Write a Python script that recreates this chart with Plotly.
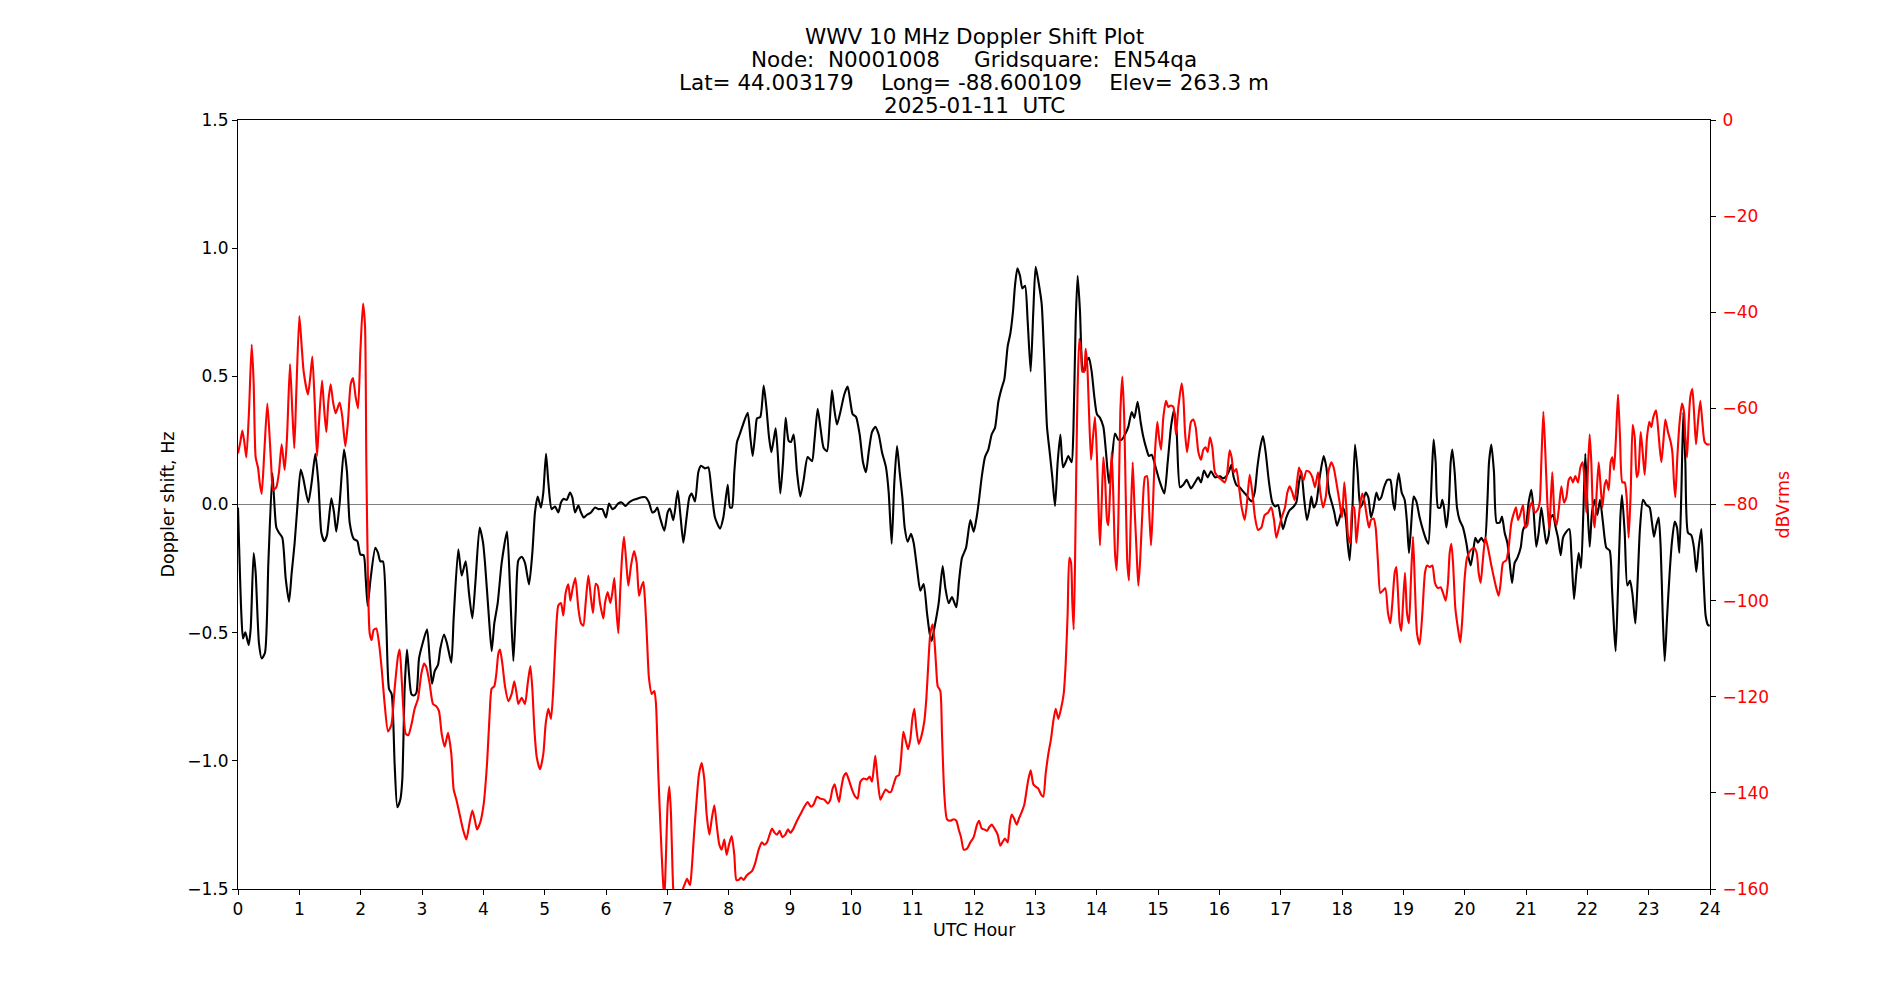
import plotly.graph_objects as go

# ---------------- data ----------------
title_lines = [
    "WWV 10 MHz Doppler Shift Plot",
    "Node:  N0001008     Gridsquare:  EN54qa",
    "Lat= 44.003179    Long= -88.600109    Elev= 263.3 m",
    "2025-01-11  UTC",
]
x_label = "UTC Hour"
y_label = "Doppler shift, Hz"
y2_label = "dBVrms"

hour_ticks = list(range(0, 25))
shift_ticks = [-1.5, -1.0, -0.5, 0.0, 0.5, 1.0, 1.5]
dbv_ticks = [-160, -140, -120, -100, -80, -60, -40, -20, 0]

# Doppler shift (Hz) : (UTC hour, value)
doppler_points = [
    (0.000, -0.012), (0.054, -0.424), (0.082, -0.523), (0.120, -0.499), (0.174, -0.548), (0.207, -0.483),
    (0.255, -0.189), (0.288, -0.267), (0.342, -0.542), (0.386, -0.601), (0.440, -0.578), (0.495, -0.228),
    (0.560, 0.122), (0.587, 0.028), (0.625, -0.090), (0.668, -0.110), (0.723, -0.130), (0.777, -0.287),
    (0.832, -0.379), (0.875, -0.267), (0.924, -0.149), (0.973, 0.008), (1.022, 0.136), (1.060, 0.106),
    (1.147, 0.008), (1.201, 0.086), (1.261, 0.198), (1.310, 0.086), (1.359, -0.110), (1.408, -0.143),
    (1.451, -0.120), (1.522, 0.024), (1.565, -0.031), (1.603, -0.106), (1.658, 0.008), (1.728, 0.214),
    (1.777, 0.126), (1.821, -0.071), (1.886, -0.134), (1.946, -0.143), (1.995, -0.195), (2.049, -0.198),
    (2.082, -0.287), (2.114, -0.395), (2.163, -0.287), (2.239, -0.169), (2.283, -0.189), (2.321, -0.222),
    (2.364, -0.222), (2.418, -0.464), (2.462, -0.719), (2.505, -0.739), (2.554, -1.014), (2.598, -1.181),
    (2.647, -1.151), (2.679, -1.073), (2.717, -0.719), (2.755, -0.566), (2.788, -0.660), (2.826, -0.739),
    (2.864, -0.745), (2.908, -0.735), (2.951, -0.601), (3.005, -0.546), (3.082, -0.487), (3.125, -0.601),
    (3.163, -0.699), (3.207, -0.650), (3.261, -0.625), (3.299, -0.562), (3.359, -0.507), (3.408, -0.542),
    (3.478, -0.617), (3.516, -0.444), (3.592, -0.175), (3.647, -0.277), (3.712, -0.222), (3.766, -0.346),
    (3.821, -0.444), (3.870, -0.306), (3.940, -0.090), (3.995, -0.149), (4.027, -0.228), (4.092, -0.444),
    (4.136, -0.572), (4.179, -0.464), (4.234, -0.385), (4.299, -0.228), (4.386, -0.106), (4.435, -0.326),
    (4.489, -0.611), (4.527, -0.424), (4.571, -0.218), (4.625, -0.204), (4.679, -0.228), (4.745, -0.312),
    (4.799, -0.189), (4.842, -0.031), (4.886, 0.031), (4.940, -0.012), (4.978, 0.047), (5.022, 0.198),
    (5.060, 0.086), (5.114, -0.018), (5.168, -0.008), (5.223, -0.031), (5.266, 0.008), (5.310, 0.022),
    (5.359, 0.018), (5.413, 0.047), (5.451, 0.028), (5.495, -0.031), (5.549, -0.004), (5.592, -0.031),
    (5.636, -0.051), (5.685, -0.041), (5.755, -0.031), (5.821, -0.012), (5.875, -0.018), (5.940, -0.018),
    (6.000, -0.051), (6.049, 0.004), (6.103, -0.018), (6.147, -0.012), (6.201, 0.004), (6.255, 0.008),
    (6.321, -0.006), (6.375, 0.008), (6.446, 0.018), (6.527, 0.024), (6.582, 0.028), (6.647, 0.028),
    (6.701, 0.008), (6.755, -0.031), (6.799, -0.026), (6.837, -0.012), (6.880, -0.051), (6.951, -0.102),
    (7.005, -0.031), (7.043, -0.016), (7.098, -0.061), (7.169, 0.053), (7.217, -0.051), (7.261, -0.149),
    (7.304, -0.071), (7.359, 0.028), (7.397, 0.043), (7.451, 0.012), (7.505, 0.126), (7.549, 0.151),
    (7.614, 0.141), (7.668, 0.145), (7.723, 0.047), (7.777, -0.051), (7.859, -0.094), (7.913, -0.051),
    (7.984, 0.077), (8.022, -0.012), (8.054, -0.012), (8.092, 0.126), (8.136, 0.244), (8.179, 0.273),
    (8.234, 0.312), (8.310, 0.358), (8.353, 0.263), (8.391, 0.189), (8.435, 0.283), (8.462, 0.336),
    (8.516, 0.342), (8.571, 0.464), (8.614, 0.381), (8.658, 0.263), (8.696, 0.204), (8.734, 0.253),
    (8.766, 0.297), (8.799, 0.204), (8.842, 0.043), (8.886, 0.165), (8.929, 0.338), (8.978, 0.248),
    (9.016, 0.244), (9.060, 0.273), (9.114, 0.126), (9.168, 0.031), (9.223, 0.096), (9.288, 0.185),
    (9.359, 0.169), (9.397, 0.244), (9.451, 0.373), (9.495, 0.303), (9.549, 0.220), (9.603, 0.208),
    (9.647, 0.322), (9.685, 0.446), (9.717, 0.381), (9.766, 0.312), (9.821, 0.361), (9.886, 0.430),
    (9.940, 0.460), (9.984, 0.401), (10.022, 0.352), (10.076, 0.342), (10.136, 0.273), (10.190, 0.165),
    (10.239, 0.126), (10.283, 0.204), (10.337, 0.283), (10.391, 0.303), (10.446, 0.273), (10.500, 0.204),
    (10.565, 0.145), (10.609, 0.047), (10.658, -0.153), (10.701, 0.086), (10.745, 0.228), (10.788, 0.126),
    (10.832, 0.028), (10.870, -0.090), (10.919, -0.145), (10.973, -0.114), (11.016, -0.149), (11.071, -0.248),
    (11.125, -0.336), (11.179, -0.310), (11.234, -0.424), (11.277, -0.503), (11.310, -0.532), (11.353, -0.483),
    (11.424, -0.385), (11.489, -0.240), (11.533, -0.326), (11.587, -0.385), (11.641, -0.361), (11.712, -0.401),
    (11.756, -0.297), (11.804, -0.208), (11.870, -0.169), (11.940, -0.061), (11.995, -0.106), (12.049, -0.041),
    (12.082, 0.018), (12.125, 0.106), (12.179, 0.185), (12.234, 0.214), (12.288, 0.273), (12.342, 0.299),
    (12.397, 0.401), (12.451, 0.454), (12.495, 0.489), (12.549, 0.617), (12.592, 0.666), (12.636, 0.754),
    (12.668, 0.853), (12.707, 0.921), (12.750, 0.892), (12.788, 0.843), (12.832, 0.853), (12.875, 0.715),
    (12.924, 0.519), (12.967, 0.754), (13.005, 0.927), (13.049, 0.872), (13.103, 0.784), (13.147, 0.558),
    (13.190, 0.303), (13.234, 0.204), (13.277, 0.106), (13.321, -0.006), (13.364, 0.165), (13.408, 0.273),
    (13.451, 0.145), (13.495, 0.165), (13.538, 0.189), (13.592, 0.165), (13.620, 0.283), (13.658, 0.715),
    (13.690, 0.892), (13.728, 0.754), (13.766, 0.538), (13.799, 0.519), (13.837, 0.558), (13.875, 0.572),
    (13.918, 0.519), (13.962, 0.420), (14.005, 0.352), (14.054, 0.338), (14.109, 0.303), (14.152, 0.204),
    (14.201, 0.083), (14.245, 0.165), (14.299, 0.277), (14.353, 0.253), (14.408, 0.253), (14.462, 0.273),
    (14.516, 0.303), (14.571, 0.361), (14.614, 0.338), (14.668, 0.401), (14.717, 0.322), (14.761, 0.263),
    (14.815, 0.214), (14.853, 0.189), (14.897, 0.194), (14.951, 0.155), (14.995, 0.116), (15.033, 0.086),
    (15.103, 0.043), (15.158, 0.165), (15.212, 0.303), (15.261, 0.369), (15.304, 0.283), (15.359, 0.067),
    (15.413, 0.077), (15.467, 0.096), (15.538, 0.063), (15.603, 0.086), (15.658, 0.106), (15.701, 0.086),
    (15.750, 0.132), (15.810, 0.106), (15.864, 0.130), (15.929, 0.106), (16.011, 0.110), (16.060, 0.102),
    (16.114, 0.110), (16.158, 0.130), (16.196, 0.155), (16.234, 0.106), (16.277, 0.077), (16.332, 0.067),
    (16.386, 0.051), (16.440, 0.037), (16.522, 0.012), (16.576, 0.047), (16.620, 0.145), (16.668, 0.224),
    (16.712, 0.267), (16.755, 0.204), (16.810, 0.086), (16.864, 0.008), (16.913, -0.008), (16.957, -0.002),
    (17.000, -0.051), (17.038, -0.096), (17.092, -0.051), (17.147, -0.022), (17.212, -0.008), (17.255, 0.008),
    (17.299, 0.086), (17.337, 0.130), (17.380, 0.028), (17.429, -0.061), (17.473, -0.012), (17.500, 0.031),
    (17.538, -0.012), (17.582, 0.008), (17.636, 0.106), (17.701, 0.189), (17.745, 0.145), (17.788, 0.047),
    (17.832, 0.008), (17.875, -0.031), (17.918, -0.083), (17.962, -0.051), (18.016, -0.012), (18.060, -0.051),
    (18.092, -0.149), (18.125, -0.218), (18.168, -0.031), (18.212, 0.234), (18.255, 0.126), (18.299, -0.012),
    (18.342, 0.008), (18.386, 0.047), (18.429, 0.028), (18.473, -0.051), (18.516, -0.012), (18.560, 0.047),
    (18.603, 0.018), (18.641, 0.028), (18.685, 0.067), (18.739, 0.096), (18.788, 0.096), (18.832, 0.008),
    (18.859, -0.022), (18.886, 0.057), (18.924, 0.122), (18.973, 0.047), (19.022, 0.018), (19.060, -0.071),
    (19.092, -0.189), (19.125, -0.090), (19.168, 0.031), (19.212, 0.012), (19.266, -0.051), (19.321, -0.100),
    (19.375, -0.139), (19.408, -0.153), (19.446, 0.008), (19.473, 0.165), (19.495, 0.253), (19.527, 0.165),
    (19.565, -0.012), (19.603, -0.012), (19.636, 0.018), (19.663, -0.012), (19.701, -0.090), (19.739, -0.012),
    (19.772, 0.165), (19.799, 0.214), (19.837, 0.126), (19.875, -0.012), (19.918, -0.061), (19.973, -0.090),
    (20.027, -0.149), (20.065, -0.208), (20.098, -0.238), (20.136, -0.189), (20.174, -0.130), (20.217, -0.149),
    (20.272, -0.130), (20.326, -0.149), (20.370, 0.008), (20.397, 0.165), (20.435, 0.234), (20.478, 0.126),
    (20.522, -0.071), (20.571, -0.071), (20.609, -0.047), (20.652, -0.110), (20.696, -0.149), (20.734, -0.228),
    (20.772, -0.306), (20.815, -0.228), (20.859, -0.208), (20.913, -0.169), (20.951, -0.100), (21.005, -0.071),
    (21.043, 0.008), (21.087, 0.057), (21.120, -0.012), (21.168, -0.165), (21.207, -0.110), (21.250, -0.012),
    (21.293, -0.090), (21.332, -0.153), (21.370, -0.120), (21.402, -0.051), (21.440, -0.041), (21.484, -0.090),
    (21.522, -0.130), (21.565, -0.198), (21.603, -0.130), (21.647, -0.110), (21.707, -0.096), (21.739, -0.189),
    (21.783, -0.369), (21.821, -0.267), (21.859, -0.189), (21.897, -0.248), (21.935, -0.031), (21.967, 0.198),
    (22.000, 0.008), (22.038, -0.165), (22.076, -0.031), (22.120, 0.018), (22.163, -0.041), (22.207, 0.018),
    (22.255, -0.071), (22.310, -0.169), (22.364, -0.179), (22.402, -0.326), (22.435, -0.483), (22.462, -0.572),
    (22.500, -0.326), (22.538, -0.051), (22.565, 0.037), (22.609, -0.110), (22.652, -0.316), (22.696, -0.297),
    (22.734, -0.346), (22.783, -0.464), (22.815, -0.326), (22.859, -0.090), (22.908, 0.018), (22.962, -0.002),
    (23.016, -0.012), (23.054, -0.071), (23.087, -0.126), (23.125, -0.081), (23.163, -0.051), (23.196, -0.169),
    (23.228, -0.424), (23.261, -0.611), (23.299, -0.444), (23.342, -0.267), (23.380, -0.145), (23.424, -0.067),
    (23.462, -0.090), (23.500, -0.189), (23.533, 0.047), (23.565, 0.361), (23.598, 0.165), (23.641, -0.110),
    (23.696, -0.120), (23.739, -0.169), (23.777, -0.263), (23.815, -0.169), (23.859, -0.096), (23.891, -0.267),
    (23.929, -0.434), (23.967, -0.470), (23.995, -0.473),
]

# Signal level (dBVrms) : (UTC hour, value)
level_points = [
    (0.000, -69.4), (0.038, -67.0), (0.071, -64.6), (0.103, -67.0), (0.136, -70.2), (0.179, -60.7),
    (0.223, -46.7), (0.255, -54.5), (0.288, -70.2), (0.326, -72.3), (0.353, -75.4), (0.386, -77.8),
    (0.429, -69.1), (0.478, -59.0), (0.516, -66.0), (0.543, -72.3), (0.571, -77.0), (0.625, -76.4),
    (0.668, -73.3), (0.712, -67.5), (0.761, -72.8), (0.799, -66.0), (0.848, -50.8), (0.886, -60.7),
    (0.918, -68.3), (0.951, -56.5), (1.000, -40.8), (1.033, -46.1), (1.071, -52.4), (1.141, -57.1),
    (1.179, -53.4), (1.212, -49.2), (1.250, -58.6), (1.288, -69.9), (1.321, -62.8), (1.370, -54.2),
    (1.408, -60.7), (1.440, -64.9), (1.473, -58.6), (1.511, -55.0), (1.549, -58.6), (1.592, -61.0),
    (1.658, -58.8), (1.701, -61.8), (1.750, -67.9), (1.793, -62.8), (1.837, -55.0), (1.875, -53.7),
    (1.918, -57.6), (1.957, -60.0), (1.995, -48.2), (2.038, -38.2), (2.071, -42.9), (2.092, -71.2),
    (2.120, -96.3), (2.147, -106.8), (2.179, -108.2), (2.212, -106.1), (2.255, -105.8), (2.299, -108.9),
    (2.342, -114.1), (2.391, -121.5), (2.446, -127.2), (2.500, -125.9), (2.554, -118.3), (2.609, -111.5),
    (2.636, -110.2), (2.668, -116.2), (2.701, -123.6), (2.734, -127.7), (2.777, -128.0), (2.826, -125.9),
    (2.880, -122.5), (2.935, -120.4), (2.989, -115.2), (3.033, -113.1), (3.071, -113.9), (3.125, -117.3),
    (3.179, -121.5), (3.234, -122.0), (3.277, -123.0), (3.321, -127.7), (3.370, -130.4), (3.424, -127.5),
    (3.478, -131.9), (3.516, -139.3), (3.560, -141.4), (3.614, -144.5), (3.668, -147.6), (3.723, -149.7),
    (3.777, -146.1), (3.821, -143.7), (3.859, -145.5), (3.897, -147.6), (3.951, -146.1), (4.005, -142.4),
    (4.060, -134.0), (4.103, -123.6), (4.136, -118.3), (4.179, -117.8), (4.212, -115.2), (4.245, -111.0),
    (4.272, -110.2), (4.310, -113.1), (4.353, -117.8), (4.408, -120.9), (4.462, -119.4), (4.505, -116.8),
    (4.543, -119.4), (4.571, -121.5), (4.625, -120.2), (4.679, -121.5), (4.723, -117.3), (4.766, -113.6),
    (4.799, -118.3), (4.832, -126.7), (4.870, -132.5), (4.924, -135.1), (4.978, -131.9), (5.016, -125.7),
    (5.060, -122.5), (5.103, -124.6), (5.141, -118.3), (5.179, -107.9), (5.223, -101.0), (5.266, -100.5),
    (5.304, -103.1), (5.342, -98.4), (5.386, -96.6), (5.419, -100.0), (5.457, -97.4), (5.500, -95.3),
    (5.549, -101.6), (5.592, -104.7), (5.630, -105.2), (5.668, -100.5), (5.712, -94.8), (5.755, -99.5),
    (5.788, -102.6), (5.832, -96.5), (5.864, -96.9), (5.902, -100.5), (5.957, -103.7), (5.984, -100.5),
    (6.027, -98.2), (6.071, -100.5), (6.103, -98.4), (6.136, -95.3), (6.168, -101.6), (6.201, -106.8),
    (6.234, -97.4), (6.266, -90.1), (6.294, -86.7), (6.337, -93.2), (6.364, -96.9), (6.408, -92.7),
    (6.457, -89.7), (6.500, -92.1), (6.538, -99.0), (6.571, -97.4), (6.609, -96.1), (6.636, -100.0),
    (6.668, -107.9), (6.701, -116.2), (6.745, -119.4), (6.788, -118.8), (6.815, -121.5), (6.853, -136.1),
    (6.897, -149.7), (6.924, -157.1), (6.951, -162.3), (6.973, -155.0), (7.005, -142.4), (7.033, -138.7),
    (7.060, -144.5), (7.087, -157.1), (7.114, -162.8), (7.152, -163.4), (7.190, -162.8), (7.234, -160.7),
    (7.277, -159.2), (7.321, -157.9), (7.370, -159.2), (7.397, -156.0), (7.435, -148.7), (7.478, -141.4),
    (7.516, -136.1), (7.560, -133.8), (7.603, -137.2), (7.641, -144.5), (7.685, -148.7), (7.723, -145.5),
    (7.766, -142.6), (7.804, -146.6), (7.848, -150.8), (7.886, -151.8), (7.929, -149.7), (7.967, -152.9),
    (8.005, -150.8), (8.049, -149.0), (8.092, -152.9), (8.125, -158.1), (8.163, -158.1), (8.201, -157.6),
    (8.245, -158.1), (8.288, -157.3), (8.326, -156.8), (8.380, -156.3), (8.435, -154.5), (8.489, -151.8),
    (8.543, -150.3), (8.582, -150.8), (8.625, -150.3), (8.668, -148.7), (8.707, -147.4), (8.745, -148.2),
    (8.788, -148.7), (8.832, -147.9), (8.875, -149.2), (8.924, -148.7), (8.967, -147.6), (9.005, -148.3),
    (9.049, -147.6), (9.103, -146.1), (9.168, -144.5), (9.234, -142.9), (9.288, -141.9), (9.342, -142.9),
    (9.386, -142.4), (9.440, -140.8), (9.495, -141.2), (9.560, -141.4), (9.614, -142.2), (9.658, -141.4),
    (9.690, -139.3), (9.728, -138.2), (9.766, -140.3), (9.799, -141.9), (9.832, -139.3), (9.875, -136.6),
    (9.918, -135.9), (9.957, -137.2), (10.011, -139.3), (10.065, -140.8), (10.103, -141.2), (10.147, -137.7),
    (10.201, -137.0), (10.255, -137.2), (10.299, -136.6), (10.337, -137.7), (10.364, -135.1), (10.391, -132.3),
    (10.429, -137.2), (10.473, -141.4), (10.516, -140.3), (10.560, -139.3), (10.609, -139.8), (10.647, -139.8),
    (10.690, -138.2), (10.734, -136.6), (10.777, -136.3), (10.810, -133.0), (10.848, -127.3), (10.880, -128.8),
    (10.924, -130.9), (10.962, -128.8), (10.995, -124.6), (11.027, -122.5), (11.060, -126.7), (11.098, -129.8),
    (11.141, -128.3), (11.190, -125.1), (11.223, -120.4), (11.255, -113.1), (11.288, -106.8), (11.326, -104.9),
    (11.353, -107.9), (11.380, -113.1), (11.408, -117.8), (11.451, -118.8), (11.478, -127.7), (11.516, -140.3),
    (11.560, -145.5), (11.614, -145.8), (11.668, -145.5), (11.712, -145.8), (11.750, -147.6), (11.788, -149.2),
    (11.832, -151.8), (11.886, -151.6), (11.940, -150.3), (11.995, -149.2), (12.049, -146.6), (12.082, -145.8),
    (12.125, -147.4), (12.168, -147.6), (12.212, -147.9), (12.250, -147.1), (12.288, -146.6), (12.342, -147.6),
    (12.386, -148.7), (12.429, -151.0), (12.462, -150.3), (12.505, -149.5), (12.549, -150.3), (12.582, -146.6),
    (12.614, -144.5), (12.652, -145.3), (12.696, -146.6), (12.734, -145.3), (12.777, -144.0), (12.821, -142.4),
    (12.859, -139.3), (12.886, -137.2), (12.924, -135.3), (12.967, -138.2), (13.005, -138.7), (13.049, -139.1),
    (13.092, -140.3), (13.130, -140.8), (13.168, -136.1), (13.212, -131.9), (13.255, -128.8), (13.293, -125.1),
    (13.332, -122.5), (13.375, -124.6), (13.419, -122.5), (13.462, -119.4), (13.495, -113.1), (13.527, -102.6),
    (13.554, -91.1), (13.582, -92.1), (13.603, -100.5), (13.625, -106.0), (13.647, -92.1), (13.669, -71.2),
    (13.690, -55.5), (13.717, -45.5), (13.745, -48.2), (13.766, -52.4), (13.793, -52.4), (13.821, -47.6),
    (13.848, -51.3), (13.875, -60.7), (13.908, -70.7), (13.940, -66.0), (13.973, -61.8), (14.005, -70.2),
    (14.033, -81.7), (14.054, -88.5), (14.082, -79.6), (14.109, -70.2), (14.136, -74.3), (14.168, -83.2),
    (14.190, -84.3), (14.217, -77.5), (14.245, -69.1), (14.272, -78.5), (14.299, -90.1), (14.326, -93.7),
    (14.353, -83.8), (14.386, -60.7), (14.419, -53.4), (14.451, -62.8), (14.473, -77.5), (14.500, -92.1),
    (14.527, -95.8), (14.554, -83.8), (14.587, -71.2), (14.614, -79.6), (14.652, -90.1), (14.679, -96.9),
    (14.707, -92.1), (14.745, -81.7), (14.788, -74.3), (14.821, -74.1), (14.853, -80.6), (14.886, -88.5),
    (14.913, -81.7), (14.951, -69.1), (14.989, -62.8), (15.016, -66.0), (15.049, -68.6), (15.087, -61.8),
    (15.130, -58.4), (15.168, -59.7), (15.207, -59.4), (15.250, -59.7), (15.293, -65.4), (15.332, -59.7),
    (15.386, -54.8), (15.413, -57.6), (15.440, -64.9), (15.473, -69.1), (15.505, -66.0), (15.538, -62.8),
    (15.576, -62.3), (15.614, -63.9), (15.658, -69.1), (15.701, -70.7), (15.739, -68.6), (15.777, -68.1),
    (15.810, -69.1), (15.848, -66.0), (15.886, -68.1), (15.929, -73.3), (15.984, -74.3), (16.038, -74.9),
    (16.087, -75.4), (16.125, -73.8), (16.168, -68.7), (16.201, -70.2), (16.234, -73.3), (16.277, -72.6),
    (16.321, -76.4), (16.364, -80.6), (16.413, -83.2), (16.451, -79.6), (16.495, -73.8), (16.538, -77.5),
    (16.582, -82.7), (16.630, -85.3), (16.685, -84.8), (16.739, -82.2), (16.793, -81.7), (16.848, -80.6),
    (16.891, -83.2), (16.929, -86.9), (16.973, -84.8), (17.016, -82.7), (17.071, -80.6), (17.109, -77.5),
    (17.147, -76.2), (17.190, -77.5), (17.228, -79.1), (17.266, -75.4), (17.299, -72.3), (17.337, -73.8),
    (17.375, -74.9), (17.419, -73.0), (17.473, -73.3), (17.516, -74.3), (17.560, -76.4), (17.609, -73.3),
    (17.647, -77.5), (17.690, -80.6), (17.734, -78.5), (17.777, -73.3), (17.826, -71.2), (17.864, -72.3),
    (17.908, -75.4), (17.962, -79.6), (18.000, -82.7), (18.038, -75.4), (18.071, -80.6), (18.098, -86.4),
    (18.136, -88.0), (18.168, -80.6), (18.196, -80.6), (18.234, -88.0), (18.266, -83.8), (18.299, -79.6),
    (18.332, -77.7), (18.370, -79.6), (18.408, -82.7), (18.440, -84.8), (18.473, -83.2), (18.516, -82.9),
    (18.549, -84.8), (18.587, -92.1), (18.625, -98.4), (18.668, -97.9), (18.707, -97.4), (18.750, -102.6),
    (18.788, -104.7), (18.821, -100.5), (18.859, -94.2), (18.886, -93.0), (18.913, -98.4), (18.940, -104.7),
    (18.967, -106.3), (18.995, -100.5), (19.027, -94.2), (19.060, -102.6), (19.092, -104.7), (19.125, -95.3),
    (19.158, -86.7), (19.190, -97.4), (19.223, -106.8), (19.266, -109.1), (19.310, -102.6), (19.353, -94.2),
    (19.386, -92.7), (19.429, -93.0), (19.473, -92.7), (19.516, -96.3), (19.565, -97.4), (19.609, -97.2),
    (19.647, -98.4), (19.690, -100.0), (19.728, -96.3), (19.755, -90.1), (19.783, -88.2), (19.810, -92.1),
    (19.848, -101.6), (19.891, -105.8), (19.929, -108.7), (19.962, -103.7), (20.000, -95.3), (20.038, -91.1),
    (20.098, -89.5), (20.152, -89.0), (20.196, -90.1), (20.228, -94.2), (20.261, -96.3), (20.293, -92.1),
    (20.337, -86.9), (20.380, -89.0), (20.435, -92.7), (20.478, -95.3), (20.516, -97.4), (20.554, -99.0),
    (20.587, -96.3), (20.625, -92.1), (20.679, -91.6), (20.717, -89.0), (20.761, -83.8), (20.804, -81.7),
    (20.837, -80.6), (20.870, -83.2), (20.902, -82.2), (20.951, -80.1), (20.989, -84.8), (21.022, -84.3),
    (21.060, -80.6), (21.098, -79.6), (21.141, -81.7), (21.185, -81.2), (21.223, -79.6), (21.250, -71.2),
    (21.283, -60.7), (21.315, -69.1), (21.348, -79.6), (21.380, -85.3), (21.402, -79.6), (21.429, -73.3),
    (21.467, -82.7), (21.500, -84.3), (21.538, -80.6), (21.576, -76.2), (21.620, -79.6), (21.658, -78.5),
    (21.696, -74.9), (21.728, -74.3), (21.766, -75.4), (21.804, -74.1), (21.848, -75.4), (21.886, -72.3),
    (21.924, -71.2), (21.957, -75.4), (21.984, -81.7), (22.011, -72.3), (22.038, -65.4), (22.065, -71.2),
    (22.092, -81.7), (22.120, -84.8), (22.152, -77.5), (22.185, -71.2), (22.212, -75.4), (22.245, -80.6),
    (22.283, -75.9), (22.310, -74.9), (22.348, -77.0), (22.380, -71.2), (22.408, -70.2), (22.435, -72.8),
    (22.467, -66.0), (22.500, -57.1), (22.533, -66.0), (22.571, -75.4), (22.609, -75.4), (22.641, -78.5),
    (22.674, -86.9), (22.707, -77.5), (22.739, -63.4), (22.772, -66.0), (22.804, -74.3), (22.832, -73.3),
    (22.870, -64.9), (22.902, -69.1), (22.935, -73.8), (22.973, -66.0), (23.011, -62.8), (23.043, -63.9),
    (23.076, -61.8), (23.120, -60.4), (23.152, -63.9), (23.179, -68.1), (23.207, -71.2), (23.239, -67.0),
    (23.272, -62.3), (23.315, -64.9), (23.359, -67.0), (23.386, -69.1), (23.413, -75.4), (23.435, -78.5),
    (23.467, -70.2), (23.505, -62.8), (23.543, -59.0), (23.576, -60.7), (23.598, -66.0), (23.625, -70.2),
    (23.652, -62.8), (23.679, -57.6), (23.712, -56.0), (23.739, -60.7), (23.772, -67.5), (23.804, -62.8),
    (23.842, -58.4), (23.875, -62.8), (23.913, -67.0), (23.956, -67.5), (23.995, -67.5),
]

doppler_hours = [p[0] for p in doppler_points]
doppler_shift = [p[1] for p in doppler_points]
level_hours = [p[0] for p in level_points]
level_dbv = [p[1] for p in level_points]


def fmt(v, nd):
    s = f"{abs(v):.{nd}f}"
    return ("\u2212" + s) if v < 0 else s


FONT = "DejaVu Sans"
TICK_SIZE = 17
LABEL_SIZE = 17.5
TITLE_SIZE = 21.5

fig = go.Figure()
fig.add_trace(go.Scatter(
    x=doppler_hours, y=doppler_shift, mode="lines", name="Doppler shift",
    line=dict(color="black", width=2.1, shape="spline", smoothing=0.6),
    yaxis="y", showlegend=False, hoverinfo="skip",
))
fig.add_trace(go.Scatter(
    x=level_hours, y=level_dbv, mode="lines", name="dBVrms",
    line=dict(color="red", width=2.1, shape="spline", smoothing=0.6),
    yaxis="y2", showlegend=False, hoverinfo="skip",
))

# zero reference line on the Doppler axis
fig.add_shape(type="line", xref="paper", x0=0, x1=1, yref="y", y0=0, y1=0,
              line=dict(color="#808080", width=1), layer="below")

# plot area in pixels (matches reference)
L, R, T, B = 238, 1710, 120, 889
W, H = 1900, 1000
pw, ph = R - L, B - T


def px_x(X):
    return (X - L) / pw


def px_y(Y):
    return (B - Y) / ph


annotations = []
for line, yc in zip(title_lines, [36.0, 59.2, 82.3, 105.4]):
    annotations.append(dict(text=line, xref="paper", yref="paper", x=0.5, y=px_y(yc),
                            xanchor="center", yanchor="middle", showarrow=False,
                            font=dict(family=FONT, size=TITLE_SIZE, color="black")))
annotations.append(dict(text=x_label, xref="paper", yref="paper", x=0.5, y=px_y(930.5),
                        xanchor="center", yanchor="middle", showarrow=False,
                        font=dict(family=FONT, size=LABEL_SIZE, color="black")))
annotations.append(dict(text=y_label, xref="paper", yref="paper", x=px_x(167), y=0.5,
                        xanchor="center", yanchor="middle", showarrow=False, textangle=-90,
                        font=dict(family=FONT, size=LABEL_SIZE, color="black")))
annotations.append(dict(text=y2_label, xref="paper", yref="paper", x=px_x(1782), y=0.5,
                        xanchor="center", yanchor="middle", showarrow=False, textangle=-90,
                        font=dict(family=FONT, size=LABEL_SIZE, color="red")))

fig.update_layout(
    width=W, height=H,
    margin=dict(l=L, r=W - R, t=T, b=H - B, pad=0),
    paper_bgcolor="white", plot_bgcolor="white",
    font=dict(family=FONT, size=TICK_SIZE, color="black"),
    showlegend=False,
    annotations=annotations,
    xaxis=dict(
        range=[0, 24], tickmode="array", tickvals=hour_ticks,
        ticktext=[str(h) for h in hour_ticks],
        ticks="outside", ticklen=5, tickwidth=1, tickcolor="black",
        showline=True, linecolor="black", linewidth=1, mirror=True,
        showgrid=False, zeroline=False, fixedrange=True,
        tickfont=dict(family=FONT, size=TICK_SIZE, color="black"),
    ),
    yaxis=dict(
        range=[-1.5, 1.5], tickmode="array", tickvals=shift_ticks,
        ticktext=[fmt(v, 1) for v in shift_ticks],
        ticks="outside", ticklen=5, tickwidth=1, tickcolor="black",
        showline=True, linecolor="black", linewidth=1,
        showgrid=False, zeroline=False, fixedrange=True,
        tickfont=dict(family=FONT, size=TICK_SIZE, color="black"),
    ),
    yaxis2=dict(
        range=[-160, 0], overlaying="y", side="right", tickmode="array",
        tickvals=dbv_ticks, ticktext=[fmt(v, 0) for v in dbv_ticks],
        ticks="outside", ticklen=5, tickwidth=1, tickcolor="black",
        ticklabelstandoff=3,
        showline=True, linecolor="black", linewidth=1,
        showgrid=False, zeroline=False, fixedrange=True,
        tickfont=dict(family=FONT, size=TICK_SIZE, color="red"),
    ),
)

fig.write_html("out.html")
